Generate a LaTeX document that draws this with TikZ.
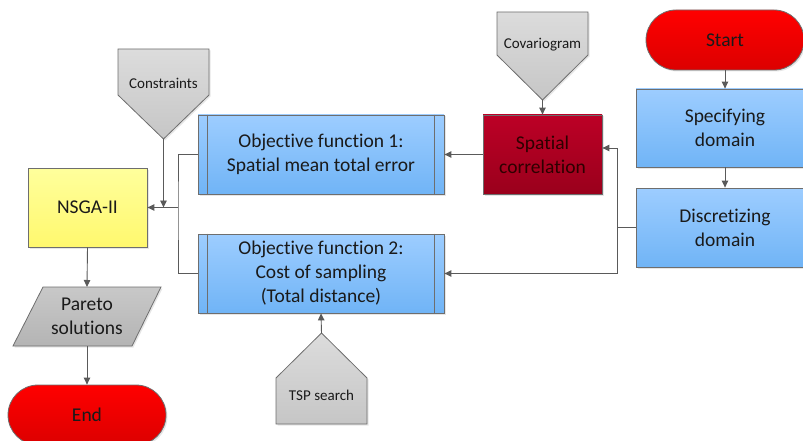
\documentclass[tikz,border=0pt]{standalone}
\usepackage{fontspec}
\setmainfont{Carlito}[Ligatures={NoCommon,NoRare}]
\usetikzlibrary{arrows.meta,shadows}
\definecolor{bluetop}{HTML}{9DCDFF}
\definecolor{bluebot}{HTML}{70B4F6}
\definecolor{redtop}{HTML}{FF0000}
\definecolor{redbot}{HTML}{DC0000}
\definecolor{darkredtop}{HTML}{BC0026}
\definecolor{darkredbot}{HTML}{9A001C}
\definecolor{yeltop}{HTML}{FFFF9C}
\definecolor{yelbot}{HTML}{FFF86E}
\definecolor{graytop}{HTML}{DCDCDC}
\definecolor{graybot}{HTML}{C6C6C6}
\definecolor{partop}{HTML}{C8C8C8}
\definecolor{parbot}{HTML}{B4B4B4}
\definecolor{edgegray}{HTML}{6E6E6E}
\definecolor{linegray}{HTML}{5A5A5A}
\definecolor{txt}{HTML}{1A1A1A}
\definecolor{sctxt}{HTML}{2E0000}
\begin{document}
\begin{tikzpicture}[x=1pt,y=-1pt,
  base/.style={draw=edgegray, line width=0.8pt, align=center, text=txt, inner sep=0pt,
    font=\fontsize{19.5}{24}\selectfont,
    drop shadow={opacity=0.2, shadow xshift=1.5pt, shadow yshift=-1.5pt}},
  bluebox/.style={base, top color=bluetop, bottom color=bluebot},
  redterm/.style={base, top color=redtop, bottom color=redbot, rounded corners=30pt,
    minimum width=158pt, minimum height=60pt},
  pentashape/.style={draw=edgegray, line width=0.8pt, top color=graytop, bottom color=graybot,
    drop shadow={opacity=0.2, shadow xshift=1.5pt, shadow yshift=-1.5pt}},
  smalltext/.style={text=txt, font=\fontsize{15}{18}\selectfont, inner sep=0pt},
  conn/.style={draw=linegray, line width=0.9pt},
  arr/.style={conn, -{Triangle[length=7pt,width=6.5pt]}}
]
\useasboundingbox (0,0) rectangle (803,441);

% Start / End
\node[redterm] (start) at (725,40) {Start};
\node[redterm] (end) at (87,415) {End};

% Right column
\node[bluebox, minimum width=178pt, minimum height=78pt] (spec) at (725,128) {Specifying\\domain};
\node[bluebox, minimum width=178pt, minimum height=79pt] (disc) at (725,227.5) {Discretizing\\domain};

% Spatial correlation
\node[base, top color=darkredtop, bottom color=darkredbot, text=sctxt,
  minimum width=119pt, minimum height=79pt] (sc) at (542.5,154.5) {Spatial\\correlation};

% Objective functions
\node[bluebox, minimum width=246pt, minimum height=79pt] (obj1) at (321,154.5)
  {Objective function 1:\\Spatial mean total error};
\node[bluebox, minimum width=246pt, minimum height=79pt] (obj2) at (321,273.5)
  {Objective function 2:\\Cost of sampling\\(Total distance)};
\foreach \o in {obj1,obj2}{
  \draw[edgegray, line width=0.8pt] ([xshift=10pt]\o.north west) -- ([xshift=10pt]\o.south west);
  \draw[edgegray, line width=0.8pt] ([xshift=-10pt]\o.north east) -- ([xshift=-10pt]\o.south east);
}

% NSGA-II
\node[base, top color=yeltop, bottom color=yelbot, minimum width=119pt, minimum height=79pt]
  (nsga) at (87.5,207.5) {NSGA-II};

% Pareto solutions (parallelogram)
\path[draw=edgegray, line width=0.8pt, top color=partop, bottom color=parbot,
  drop shadow={opacity=0.2, shadow xshift=1.5pt, shadow yshift=-1.5pt}]
  (43,287) -- (161,287) -- (132,346) -- (13,346) -- cycle;
\node[text=txt, font=\fontsize{19.5}{24}\selectfont, align=center, inner sep=0pt] (pareto) at (87,316.5) {Pareto\\solutions};
\coordinate (partop) at (87,287);
\coordinate (parbot) at (87,346);

% Pentagons
\path[pentashape] (497,12) -- (588,12) -- (588,55) -- (542.5,100) -- (497,55) -- cycle;
\node[smalltext] (cov) at (542.5,45) {Covariogram};
\coordinate (covtip) at (542.5,100);

\path[pentashape] (118,49) -- (209,49) -- (209,95) -- (163.5,139) -- (118,95) -- cycle;
\node[smalltext] (cons) at (163.5,83) {Constraints};
\coordinate (constip) at (163.5,139);
\coordinate (consend) at (163.5,207.5);

\path[pentashape] (276,424) -- (367,424) -- (367,378) -- (321.5,333) -- (276,378) -- cycle;
\node[smalltext] (tsp) at (321.5,395) {TSP search};
\coordinate (tsptip) at (321.5,333);

% Connectors
\draw[arr] (start) -- (spec);
\draw[arr] (spec) -- (disc);
\coordinate (split) at (617,227.5);
\draw[conn] (disc.west) -- (split);
\draw[arr] (split) |- ([yshift=6.5pt]sc.east);
\draw[arr] (split) |- (obj2.east);
\draw[arr] (covtip) -- (sc.north);
\draw[arr] (sc.west) -- (obj1.east);
\draw[arr] (tsptip) -- (obj2.south);
\coordinate (join) at (178,207.5);
\draw[conn] (obj1.west) -| (join) |- (obj2.west);
\draw[arr] (join) -- (nsga.east);
\draw[arr] (constip) -- (consend);
\draw[arr] (nsga.south) -- (partop);
\draw[arr] (parbot) -- (end.north);
\end{tikzpicture}
\end{document}
